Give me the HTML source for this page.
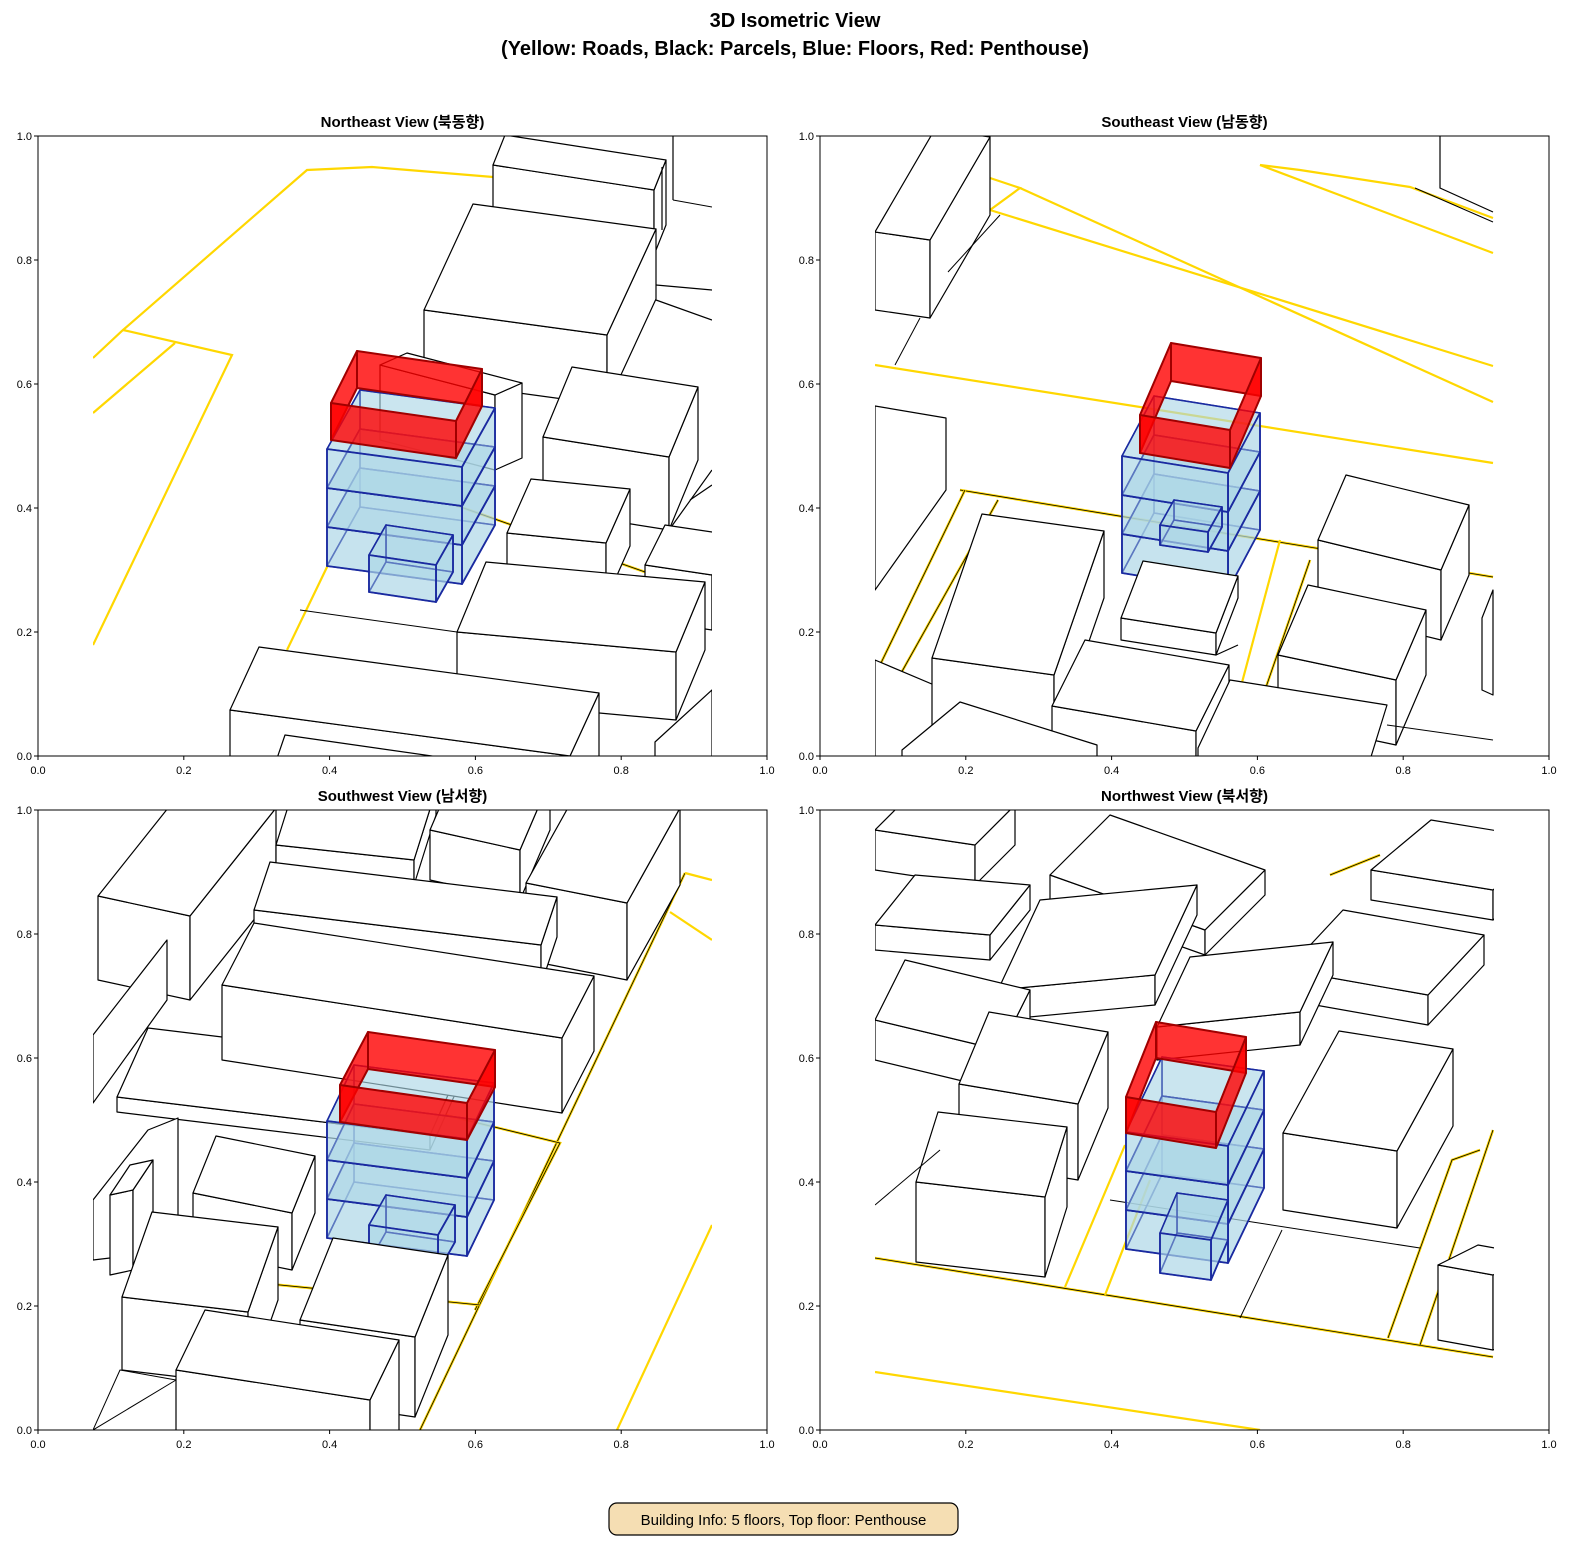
<!DOCTYPE html>
<html><head><meta charset="utf-8"><style>
body{margin:0;background:#fff;width:1590px;height:1560px;overflow:hidden}
svg text{font-family:"Liberation Sans","Noto Sans CJK KR",sans-serif}
</style></head><body>
<svg id="s" width="1590" height="1560" xmlns="http://www.w3.org/2000/svg">
<text x="795" y="27" text-anchor="middle" font-size="20" font-weight="bold">3D Isometric View</text>
<text x="795" y="55" text-anchor="middle" font-size="20" font-weight="bold">(Yellow: Roads, Black: Parcels, Blue: Floors, Red: Penthouse)</text>
<g id="g"></g>
<rect x="609" y="1503" width="349" height="32" rx="8" fill="#f5deb3" stroke="#000" stroke-width="1.2"/>
<text x="783.5" y="1525" text-anchor="middle" font-size="15">Building Info: 5 floors, Top floor: Penthouse</text>
</svg>
<script>
const NS="http://www.w3.org/2000/svg";const G=document.getElementById('g');
let out='';
const P=a=>a.map(p=>p.join(',')).join(' ');
function poly(pts,fill,stroke,sw,op){out+=`<polygon points="${P(pts)}" fill="${fill}" stroke="${stroke}" stroke-width="${sw}" ${op!=null?`fill-opacity="${op}"`:''} stroke-linejoin="round"/>`;}
function line(pts,col,w){out+=`<polyline points="${P(pts)}" fill="none" stroke="${col}" stroke-width="${w}"/>`;}
function road(pts){line(pts,'#ffd700',2.2);}
function roadb(pts){line(pts,'#ffd700',2.6);line(pts,'#000',0.8);}
function prism(x1,y1,x2,y2,h,dx,dy){
 const fbl=[x1,y1],fbr=[x2,y2],ftl=[x1,y1-h],ftr=[x2,y2-h];
 const btl=[x1+dx,y1-h+dy],btr=[x2+dx,y2-h+dy],bbr=[x2+dx,y2+dy];
 poly([fbl,fbr,ftr,ftl],'#fff','#000',1.2);
 poly([fbr,bbr,btr,ftr],'#fff','#000',1.2);
 poly([ftl,ftr,btr,btl],'#fff','#000',1.2);
}
function glass(x1,y1,x2,y2,h,dx,dy){
 const fbl=[x1,y1],fbr=[x2,y2],ftl=[x1,y1-h],ftr=[x2,y2-h];
 const bbl=[x1+dx,y1+dy],btl=[x1+dx,y1-h+dy],btr=[x2+dx,y2-h+dy],bbr=[x2+dx,y2+dy];
 const f='#add8e6',s='#1a2aa0';
 poly([bbl,bbr,btr,btl],f,s,1.5,0.45);
 poly([fbl,bbl,btl,ftl],f,s,1.5,0.45);
 poly([fbl,fbr,bbr,bbl],f,s,1.5,0.45);
 poly([ftl,ftr,btr,btl],f,s,1.5,0.35);
 poly([fbr,bbr,btr,ftr],f,s,1.8,0.45);
 poly([fbl,fbr,ftr,ftl],f,s,1.8,0.45);
}
function red(x1,y1,x2,y2,h,dx,dy){
 const fbl=[x1,y1],fbr=[x2,y2],ftl=[x1,y1-h],ftr=[x2,y2-h];
 const bbl=[x1+dx,y1+dy],btl=[x1+dx,y1-h+dy],btr=[x2+dx,y2-h+dy],bbr=[x2+dx,y2+dy];
 const f='#ff0000',s='#a00000';
 poly([bbl,bbr,btr,btl],f,s,2,0.8);
 poly([fbl,bbl,btl,ftl],f,s,2,0.8);
 poly([fbr,bbr,btr,ftr],f,s,2,0.8);
 poly([fbl,fbr,ftr,ftl],f,s,2,0.8);
}
function stack(x1,y1,x2,y2,fh,n,dx,dy){for(let i=0;i<n;i++)glass(x1,y1-i*fh,x2,y2-i*fh,fh,dx,dy);}
function axes(x0,y0,title,draw){
 const id='c'+x0+'_'+y0;
 out+=`<clipPath id="${id}"><rect x="${x0+55}" y="${y0}" width="619" height="620"/></clipPath><g clip-path="url(#${id})">`;
 draw();
 out+='</g>';
 out+=`<rect x="${x0}" y="${y0}" width="729" height="620" fill="none" stroke="#000" stroke-width="1"/>`;
 for(let i=0;i<=5;i++){const t=i/5,x=x0+729*t,y=y0+620-620*t,l=t.toFixed(1);
  out+=`<line x1="${x}" y1="${y0+620}" x2="${x}" y2="${y0+624}" stroke="#000"/><text x="${x}" y="${y0+638}" font-size="11" text-anchor="middle">${l}</text>`;
  out+=`<line x1="${x0-4}" y1="${y}" x2="${x0}" y2="${y}" stroke="#000"/><text x="${x0-6}" y="${y+4}" font-size="11" text-anchor="end">${l}</text>`;}
 out+=`<text x="${x0+364.5}" y="${y0-9}" font-size="15" font-weight="bold" text-anchor="middle">${title}</text>`;
}
// TL
axes(38,136,'Northeast View (북동향)',()=>{
 road([[93,358],[123,330],[307,170],[372,167],[493,177]]);
 road([[93,413],[175,343]]);
 road([[123,330],[232,355],[93,645]]);
 road([[287,650],[328,565]]);
 roadb([[455,505],[645,572]]);
 prism(493,230,654,255,65,12,-30);
 line([[662,167],[662,230]],'#000',1.2);line([[673,136],[673,200]],'#000',1.2);
 line([[673,200],[712,207]],'#000',1);
 line([[656,285],[712,290]],'#000',1.2);line([[656,300],[712,320]],'#000',1.2);
 prism(424,380,607,405,70,49,-106);
 prism(380,440,495,470,75,27,-12);
 prism(543,510,669,530,73,29,-70);
 line([[669,530],[712,470]],'#000',1.2);line([[690,500],[712,485]],'#000',1.2);
 prism(507,590,606,600,57,24,-54);
 prism(645,620,712,630,55,20,-40);
 line([[300,610],[457,632]],'#000',1);
 prism(457,700,676,720,68,29,-70);
 prism(230,800,570,846,90,29,-63);
 poly([[273,770],[285,735],[530,770]],'#fff','#000',1.2);
 poly([[655,760],[655,742],[712,690],[712,760]],'#fff','#000',1.2);
 stack(327,566,462,584,39,3,33,-59);
 glass(369,592,436,602,37,17,-30);
 red(331,440,456,458,37,26,-52);
});
// TR
axes(820,136,'Southeast View (남동향)',()=>{
 road([[990,178],[1020,188],[990,210]]);
 road([[990,210],[1493,366]]);
 road([[1020,188],[1493,402]]);
 road([[875,365],[1493,463]]);
 road([[1260,165],[1300,170],[1410,187],[1493,218]]);
 road([[1260,165],[1493,253]]);
 roadb([[960,490],[1493,577]]);
 roadb([[880,665],[965,490]]);
 roadb([[900,675],[998,500]]);
 road([[1240,690],[1280,540]]);
 roadb([[1265,690],[1310,560]]);
 prism(875,310,930,318,78,60,-103);
 line([[948,272],[1000,215]],'#000',1);line([[895,365],[920,318]],'#000',1);
 line([[1440,136],[1440,188],[1493,212]],'#000',1.2);line([[1415,188],[1493,222]],'#000',1);
 poly([[875,406],[946,418],[946,490],[875,590]],'#fff','#000',1.2);
 poly([[875,660],[946,690],[946,760],[875,760]],'#fff','#000',1.2);
 prism(932,725,1054,742,67,50,-144);
 stack(1122,573,1228,590,39,3,32,-60);
 glass(1160,545,1208,552,20,14,-25);
 red(1140,453,1230,468,38,31,-72);
 prism(1121,640,1216,655,22,22,-57);
 line([[1216,655],[1238,645]],'#000',1.2);
 prism(1052,770,1196,795,64,33,-66);
 prism(1318,610,1441,640,70,28,-65);
 prism(1278,720,1396,745,65,30,-70);
 poly([[902,760],[902,750],[960,702],[1097,745],[1097,760]],'#fff','#000',1.2);
 poly([[1198,760],[1198,748],[1230,680],[1387,705],[1370,760]],'#fff','#000',1.2);
 poly([[1482,690],[1482,618],[1493,590],[1493,695]],'#fff','#000',1.2);
 line([[1387,725],[1493,740]],'#000',1);
});
// BL
axes(38,810,'Southwest View (남서향)',()=>{
 roadb([[420,1430],[685,873]]);
 road([[617,1430],[712,1225]]);
 road([[670,912],[712,940]]);road([[685,873],[712,880]]);
 roadb([[445,1115],[560,1143],[475,1310]]);
 roadb([[230,1280],[480,1305]]);
 prism(98,980,190,1000,84,86,-108);
 prism(276,870,414,885,25,22,-70);
 prism(430,880,520,900,50,30,-70);
 prism(526,960,627,980,77,53,-95);
 prism(254,950,541,985,40,16,-48);
 prism(117,1112,430,1150,15,31,-69);
 prism(222,1060,562,1113,75,32,-62);
 poly([[93,1103],[93,1035],[167,940],[167,1000],[93,1103]],'#fff','#000',1.2);
 poly([[93,1200],[148,1130],[178,1118],[178,1250],[93,1260]],'#fff','#000',1.2);
 prism(110,1275,133,1270,80,20,-30);
 stack(327,1238,467,1256,39,3,27,-56);
 glass(369,1262,438,1272,37,17,-30);
 red(340,1122,467,1140,37,28,-53);
 prism(193,1250,292,1270,57,23,-57);
 prism(122,1370,248,1385,73,30,-85);
 prism(300,1400,415,1417,80,33,-82);
 prism(176,1460,370,1490,90,29,-60);
 poly([[93,1430],[120,1370],[176,1380]],'none','#000',1);
});
// BR
axes(820,810,'Northwest View (북서향)',()=>{
 roadb([[875,1258],[1493,1357]]);
 road([[875,1372],[1260,1430]]);
 road([[1065,1287],[1125,1145]]);road([[1105,1295],[1150,1180]]);
 roadb([[1388,1338],[1452,1160],[1480,1150]]);
 roadb([[1420,1345],[1493,1130]]);
 roadb([[1330,875],[1380,855]]);
 prism(875,870,975,885,40,40,-40);
 prism(1050,900,1205,955,25,60,-60);
 prism(1287,1000,1428,1025,30,56,-60);
 prism(875,950,990,960,25,40,-50);
 prism(1371,900,1493,920,30,60,-50);
 prism(998,1020,1155,1005,30,42,-90);
 prism(1157,1060,1300,1045,33,33,-70);
 prism(875,1060,1000,1090,40,30,-60);
 prism(959,1160,1078,1180,76,30,-72);
 prism(1283,1210,1397,1228,77,56,-102);
 line([[1240,1318],[1282,1230]],'#000',1);
 line([[1110,1200],[1420,1248]],'#000',1);
 stack(1126,1249,1228,1263,39,3,36,-75);
 glass(1160,1273,1211,1280,40,17,-40);
 red(1126,1133,1216,1148,36,30,-75);
 prism(916,1262,1045,1277,80,22,-70);
 prism(1438,1340,1493,1350,75,40,-20);
 line([[875,1205],[940,1150]],'#000',1);
});
G.innerHTML=out;
</script>
</body></html>
